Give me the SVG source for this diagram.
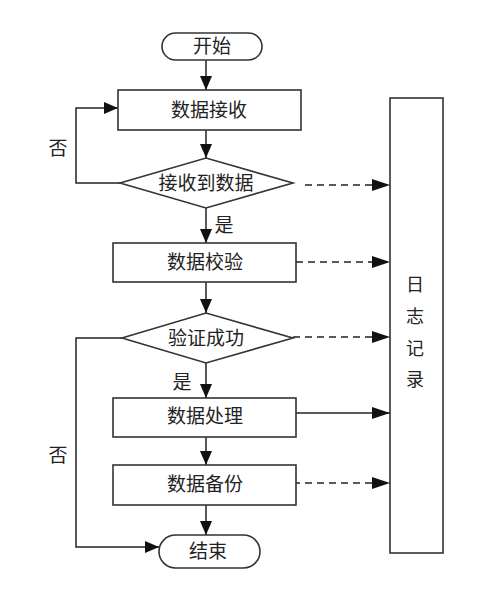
<svg xmlns="http://www.w3.org/2000/svg" width="494" height="591" viewBox="0 0 494 591">
<style>
.box{fill:#fff;stroke:#333;stroke-width:1.6}
.ln{fill:none;stroke:#222;stroke-width:1.5}
.dash{fill:none;stroke:#222;stroke-width:1.5;stroke-dasharray:7 5}
.t{font-family:"Liberation Serif","Noto Sans CJK SC",serif;font-size:19px;fill:#222;text-anchor:middle;dominant-baseline:central}
.s{font-size:18px}
</style>
<defs>
<marker id="ah" markerWidth="14" markerHeight="12" refX="14" refY="6" orient="auto" markerUnits="userSpaceOnUse">
<path d="M0,0 L14,6 L0,12 Z" fill="#111"/>
</marker>
<marker id="ahl" markerWidth="18" markerHeight="12" refX="18" refY="6" orient="auto" markerUnits="userSpaceOnUse">
<path d="M0,0 L18,6 L0,12 Z" fill="#111"/>
</marker>
</defs>
<rect width="494" height="591" fill="#fff"/>
<g id="connectors">
<line class="ln" x1="206" y1="60" x2="206" y2="90" marker-end="url(#ah)"/>
<line class="ln" x1="206" y1="130" x2="206" y2="158" marker-end="url(#ah)"/>
<polyline class="ln" points="120,183 76,183 76,108 118,108" marker-end="url(#ah)"/>
<line class="ln" x1="206" y1="208" x2="206" y2="243" marker-end="url(#ah)"/>
<line class="ln" x1="206" y1="282" x2="206" y2="313" marker-end="url(#ah)"/>
<polyline class="ln" points="122,338 76,338 76,547 159,547" marker-end="url(#ah)"/>
<line class="ln" x1="206" y1="363" x2="206" y2="398" marker-end="url(#ah)"/>
<line class="ln" x1="206" y1="437" x2="206" y2="465" marker-end="url(#ah)"/>
<line class="ln" x1="206" y1="505" x2="206" y2="535" marker-end="url(#ah)"/>
<line class="dash" x1="305" y1="185" x2="390" y2="185" marker-end="url(#ahl)"/>
<line class="dash" x1="296" y1="262" x2="390" y2="262" marker-end="url(#ahl)"/>
<line class="dash" x1="293" y1="337" x2="390" y2="337" marker-end="url(#ahl)"/>
<line class="ln" x1="296" y1="413" x2="390" y2="413" marker-end="url(#ahl)"/>
<line class="dash" x1="293" y1="483" x2="390" y2="483" marker-end="url(#ahl)"/>
<text class="t" x="58" y="148">否</text>
<text class="t" x="224" y="225">是</text>
<text class="t" x="182" y="382">是</text>
<text class="t" x="58" y="455">否</text>
</g>
<g id="start">
<rect class="box" x="162" y="33" width="100" height="27" rx="13.5"/>
<text class="t" x="212" y="46.5">开始</text>
</g>
<g id="receive">
<rect class="box" x="118" y="90" width="183" height="40"/>
<text class="t" x="209" y="110">数据接收</text>
</g>
<g id="received">
<polygon class="box" points="120,183 206,158 293,183 206,208"/>
<text class="t" x="206" y="183">接收到数据</text>
</g>
<g id="verify">
<rect class="box" x="113" y="243" width="183" height="39"/>
<text class="t" x="205" y="262.5">数据校验</text>
</g>
<g id="verified">
<polygon class="box" points="122,338 206,313 293,338 206,363"/>
<text class="t" x="206" y="338">验证成功</text>
</g>
<g id="process">
<rect class="box" x="113" y="398" width="183" height="39"/>
<text class="t" x="205" y="416">数据处理</text>
</g>
<g id="backup">
<rect class="box" x="113" y="465" width="183" height="40"/>
<text class="t" x="205" y="484">数据备份</text>
</g>
<g id="end">
<rect class="box" x="159" y="535" width="101" height="33" rx="16.5"/>
<text class="t" x="208" y="551.5">结束</text>
</g>
<g id="log">
<rect class="box" x="390" y="98" width="53" height="455"/>
<text class="t s" x="415" y="285">日</text>
<text class="t s" x="415" y="317">志</text>
<text class="t s" x="415" y="349">记</text>
<text class="t s" x="415" y="380">录</text>
</g>
</svg>
